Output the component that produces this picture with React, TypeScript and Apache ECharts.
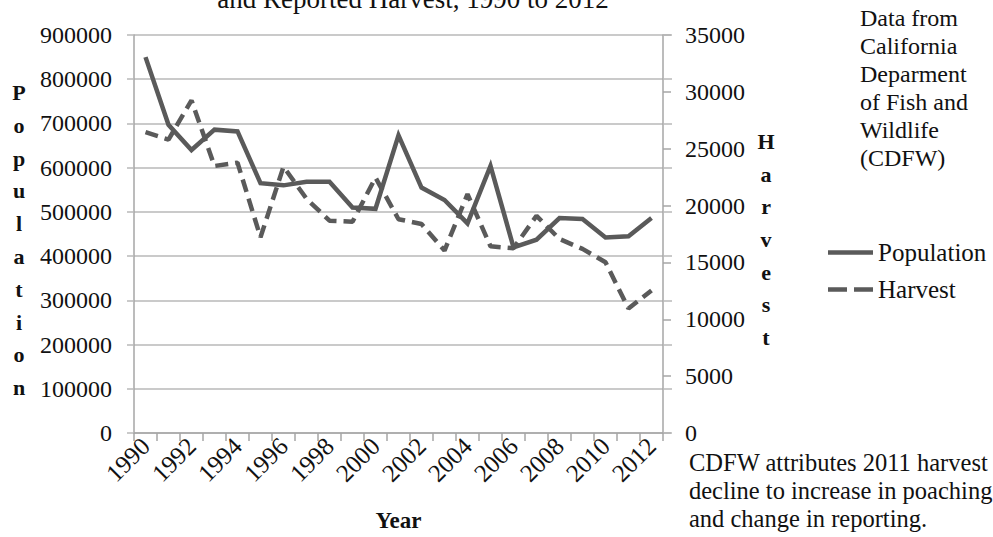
import React, { useEffect, useRef } from "react";
import * as echarts from "echarts";

const years = ["1990","1991","1992","1993","1994","1995","1996","1997","1998","1999","2000","2001","2002","2003","2004","2005","2006","2007","2008","2009","2010","2011","2012"];
const population = [850000, 697000, 640000, 686000, 682000, 565000, 560000, 568000, 568000, 510000, 507000, 673000, 555000, 527000, 474000, 604000, 420000, 437000, 486000, 484000, 442000, 445000, 486000];
const harvest = [26450, 25800, 29250, 23480, 23770, 17210, 23420, 20600, 18670, 18580, 22460, 18800, 18380, 16040, 21000, 16420, 16250, 19100, 17060, 16190, 15020, 10940, 12540];

const titleText = "and Reported Harvest, 1990 to 2012";
const leftName = "Population";
const rightName = "Harvest";
const xName = "Year";
const sourceNote = "Data from\nCalifornia\nDeparment\nof Fish and\nWildlife\n(CDFW)";
const footNote = "CDFW attributes 2011 harvest\ndecline to increase in poaching\nand change in reporting.";

const FONT = "'Liberation Serif', 'Times New Roman', serif";
const LINE = "#5a5a5a";
const GRID = "#b9b9b9";
const AXIS = "#a6a6a6";

export default function App() {
  const ref = useRef<HTMLDivElement>(null);
  useEffect(() => {
    if (!ref.current) return;
    const chart = echarts.init(ref.current, undefined, { renderer: "svg" });
    chart.setOption({
      animation: false,
      backgroundColor: "#ffffff",
      textStyle: { fontFamily: FONT },
      grid: { left: 134, top: 35, width: 529, height: 400, containLabel: false },
      legend: {
        orient: "vertical",
        left: 828,
        top: 240,
        itemWidth: 45,
        itemHeight: 24,
        itemGap: 12,
        padding: 0,
        textStyle: { fontFamily: FONT, fontSize: 25, color: "#111" },
        data: [
          { name: "Population", icon: "path://M0 0H45V4.5H0Z" },
          { name: "Harvest", icon: "path://M0 0H19V4.5H0Z M26 0H45V4.5H26Z" },
        ],
      },
      xAxis: {
        type: "category",
        data: years,
        boundaryGap: true,
        name: xName,
        nameLocation: "middle",
        nameGap: 76,
        nameTextStyle: { fontFamily: FONT, fontSize: 23, fontWeight: "bold", color: "#111" },
        axisLine: { show: true, lineStyle: { color: AXIS, width: 1.5 } },
        axisTick: { show: true, interval: 0, length: 8, lineStyle: { color: AXIS, width: 1.5 } },
        axisLabel: { interval: 1, rotate: 45, margin: 9, fontFamily: FONT, fontSize: 25, color: "#111" },
        splitLine: { show: false },
      },
      yAxis: [
        {
          type: "value",
          position: "left",
          min: 0,
          max: 900000,
          interval: 100000,
          axisLine: { show: true, lineStyle: { color: AXIS, width: 1.5 } },
          axisTick: { show: true, length: 7, lineStyle: { color: GRID, width: 1.5 } },
          axisLabel: { margin: 22, fontFamily: FONT, fontSize: 24, color: "#111", formatter: (v: number) => String(v) },
          splitLine: { show: true, lineStyle: { color: GRID, width: 1.5 } },
        },
        {
          type: "value",
          position: "right",
          min: 0,
          max: 35000,
          interval: 5000,
          axisLine: { show: true, lineStyle: { color: AXIS, width: 1.5 } },
          axisTick: { show: true, length: 8, lineStyle: { color: AXIS, width: 1.5 } },
          axisLabel: { margin: 22, fontFamily: FONT, fontSize: 24, color: "#111", formatter: (v: number) => String(v) },
          splitLine: { show: false },
        },
        {
          type: "value",
          position: "right",
          min: 0,
          max: 900000,
          interval: 100000,
          axisLine: { show: false },
          axisTick: { show: true, length: 9, lineStyle: { color: GRID, width: 1.5 } },
          axisLabel: { show: false },
          splitLine: { show: false },
        },
      ],
      series: [
        {
          name: "Population",
          type: "line",
          yAxisIndex: 0,
          data: population,
          symbol: "none",
          lineStyle: { color: LINE, width: 4.5, join: "miter" },
          itemStyle: { color: LINE },
        },
        {
          name: "Harvest",
          type: "line",
          yAxisIndex: 1,
          data: harvest,
          symbol: "none",
          lineStyle: { color: LINE, width: 4.5, type: [13, 7] },
          itemStyle: { color: LINE },
        },
      ],
      graphic: [
        {
          type: "text",
          x: 413,
          y: 12,
          style: { text: titleText, fontFamily: FONT, fontSize: 27, fill: "#111", align: "center", verticalAlign: "bottom" },
        },
        {
          type: "text",
          x: 19,
          y: 76,
          style: {
            text: leftName.split("").join("\n"),
            fontFamily: FONT, fontSize: 22, fontWeight: "bold", lineHeight: 32.8,
            fill: "#111", align: "center", verticalAlign: "top",
          },
        },
        {
          type: "text",
          x: 766,
          y: 125,
          style: {
            text: rightName.split("").join("\n"),
            fontFamily: FONT, fontSize: 22, fontWeight: "bold", lineHeight: 32.7,
            fill: "#111", align: "center", verticalAlign: "top",
          },
        },
        {
          type: "text",
          x: 860,
          y: 4,
          style: { text: sourceNote, fontFamily: FONT, fontSize: 24, lineHeight: 28, fill: "#111", align: "left", verticalAlign: "top" },
        },
        {
          type: "text",
          x: 689,
          y: 448,
          style: { text: footNote, fontFamily: FONT, fontSize: 24.5, lineHeight: 28, fill: "#111", align: "left", verticalAlign: "top" },
        },
      ],
    });
    return () => chart.dispose();
  }, []);
  return <div ref={ref} style={{ position: "fixed", left: 0, top: 0, width: 993, height: 537 }} />;
}
